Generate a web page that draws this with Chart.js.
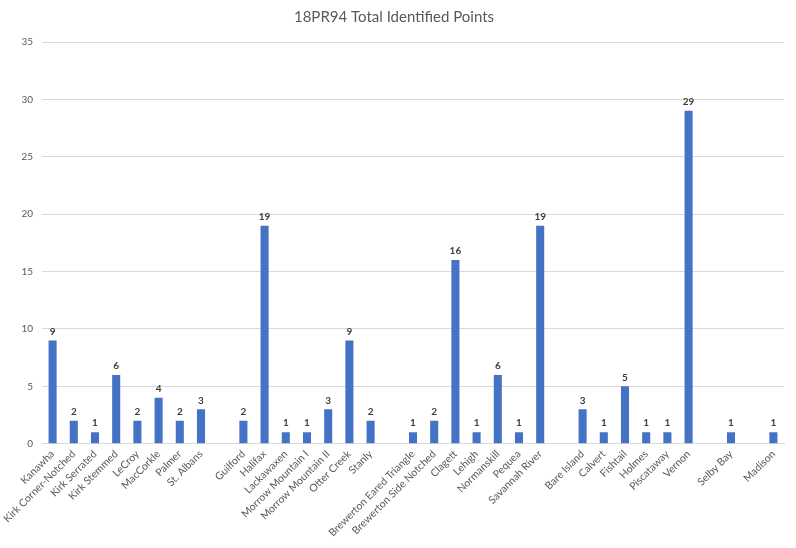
<!DOCTYPE html>
<html>
<head>
<meta charset="utf-8">
<title>18PR94 Total Identified Points</title>
<script src="https://cdn.jsdelivr.net/npm/chart.js@4.4.1/dist/chart.umd.min.js"></script>
<style>
  html, body { margin: 0; padding: 0; background: #ffffff; }
  #wrap { width: 796px; height: 548px; position: relative; }
</style>
</head>
<body>
<div id="wrap"><canvas id="grafico"></canvas></div>
<script>
// point types, blank entries separate the groups
const tipos = [
    "Kanawha", "Kirk Corner-Notched", "Kirk Serrated", "Kirk Stemmed", "LeCroy", "MacCorkle", "Palmer", "St. Albans",
    "",
    "Guilford", "Halifax", "Lackawaxen", "Morrow Mountain I", "Morrow Mountain II", "Otter Creek", "Stanly",
    "",
    "Brewerton Eared Triangle", "Brewerton Side Notched", "Clagett", "Lehigh", "Normanskill", "Pequea", "Savannah River",
    "",
    "Bare Island", "Calvert", "Fishtail", "Holmes", "Piscataway", "Vernon",
    "",
    "Selby Bay",
    "",
    "Madison"
];

const quantidades = [
    9, 2, 1, 6, 2, 4, 2, 3,
    null,
    2, 19, 1, 1, 3, 9, 2,
    null,
    1, 2, 16, 1, 6, 1, 19,
    null,
    3, 1, 5, 1, 1, 29,
    null,
    1,
    null,
    1
];

const marcasY = [0, 5, 10, 15, 20, 25, 30, 35];

const fonte = "Lato, 'Open Sans', sans-serif";
const cinza = "#595959";

// escreve o valor acima de cada barra
const rotulosValores = {
    id: "rotulosValores",
    afterDatasetsDraw(chart) {
        const ctx = chart.ctx;
        const meta = chart.getDatasetMeta(0);
        ctx.save();
        ctx.font = "bold 10px " + fonte;
        ctx.fillStyle = "#404040";
        ctx.textAlign = "center";
        ctx.textBaseline = "bottom";
        meta.data.forEach((barra, i) => {
            const v = quantidades[i];
            if (v === null || v === undefined) return;
            ctx.fillText(String(v), barra.x, barra.y - 4);
        });
        ctx.restore();
    }
};

new Chart(document.getElementById("grafico").getContext("2d"), {
    type: "bar",
    data: {
        labels: tipos,
        datasets: [{
            label: "Total",
            data: quantidades,
            backgroundColor: "#4472C4",
            categoryPercentage: 1,
            barPercentage: 0.38
        }]
    },
    options: {
        responsive: true,
        maintainAspectRatio: false,
        animation: false,
        layout: { padding: { top: 8, right: 12, left: 4, bottom: 5 } },
        plugins: {
            legend: { display: false },
            tooltip: { enabled: false },
            title: {
                display: true,
                text: "18PR94 Total Identified Points",
                color: cinza,
                font: { family: fonte, size: 15, weight: "normal" },
                padding: { top: 0, bottom: 16 }
            }
        },
        scales: {
            x: {
                grid: { display: false, drawTicks: false },
                border: { color: "#d9d9d9" },
                ticks: {
                    color: cinza,
                    font: { family: fonte, size: 10.5 },
                    minRotation: 45,
                    maxRotation: 45,
                    autoSkip: false,
                    padding: 4
                }
            },
            y: {
                min: 0,
                max: 35,
                afterBuildTicks(scale) {
                    scale.ticks = marcasY.map(v => ({ value: v }));
                },
                afterFit(scale) {
                    scale.width = 38;
                },
                grid: { color: "#d9d9d9", drawTicks: false },
                border: { display: false },
                ticks: {
                    color: cinza,
                    font: { family: fonte, size: 10 },
                    padding: 9
                }
            }
        }
    },
    plugins: [rotulosValores]
});
</script>
</body>
</html>
